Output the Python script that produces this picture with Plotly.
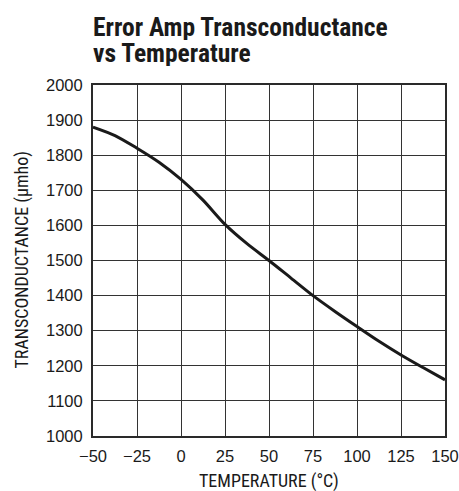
import plotly.graph_objects as go

temperature = [-50, -37.5, -25, -12.5, 0, 12.5, 25, 37.5, 50, 62.5, 75, 87.5, 100, 112.5, 125, 137.5, 150]
transconductance = [1880, 1856, 1820, 1780, 1731, 1672, 1603, 1548, 1500, 1450, 1400, 1355, 1312, 1270, 1231, 1195, 1160]

x_ticks = [-50, -25, 0, 25, 50, 75, 100, 125, 150]
x_tick_labels = ["\u221250", "\u221225", "0", "25", "50", "75", "100", "125", "150"]
y_ticks = list(range(1000, 2001, 100))

title_lines = ["Error Amp Transconductance", "vs Temperature"]
x_title = "TEMPERATURE (\u00b0C)"
y_title = "TRANSCONDUCTANCE (\u00b5mho)"

narrow = "Roboto Condensed, Liberation Sans Narrow, Arial Narrow, sans-serif"
regular = "Liberation Sans, Arial, sans-serif"
ink = "#1a1a1a"

fig = go.Figure()
fig.add_trace(go.Scatter(
    x=temperature, y=transconductance, mode="lines",
    line=dict(color=ink, width=3, shape="spline", smoothing=0.8),
    showlegend=False, hoverinfo="skip"))

annotations = []
for i, line in enumerate(title_lines):
    annotations.append(dict(
        text="<b>" + line + "</b>", xref="paper", yref="paper", x=0, y=1,
        xanchor="left", yanchor="middle", xshift=-2, yshift=58 - 26 * i,
        height=26, valign="middle",
        showarrow=False, font=dict(family=narrow, size=25.5, color=ink)))
annotations.append(dict(
    text=x_title, xref="paper", yref="paper", x=0.5, y=0,
    xanchor="center", yanchor="middle", yshift=-45,
    showarrow=False, font=dict(family=narrow, size=18, color=ink)))
annotations.append(dict(
    text=y_title, xref="paper", yref="paper", x=0, y=0.5, textangle=-90,
    xanchor="center", yanchor="middle", xshift=-72,
    showarrow=False, font=dict(family=narrow, size=18, color=ink)))

fig.update_layout(
    width=459, height=491,
    margin=dict(l=93, r=14, t=85, b=55, autoexpand=False),
    plot_bgcolor="white", paper_bgcolor="white",
    font=dict(family=regular, size=16, color=ink),
    annotations=annotations,
)
fig.update_xaxes(
    range=[-50, 150], tickvals=x_ticks, ticktext=x_tick_labels,
    showgrid=True, gridcolor="#333333", gridwidth=1,
    showline=True, linecolor="#2a2a2a", linewidth=2, mirror=True,
    ticks="", zeroline=False, automargin=False, ticklabelstandoff=4,
    tickfont=dict(family=regular, size=16.5, color=ink))
fig.update_yaxes(
    range=[1000, 2000], tickvals=y_ticks,
    showgrid=True, gridcolor="#333333", gridwidth=1,
    showline=True, linecolor="#2a2a2a", linewidth=2, mirror=True,
    ticks="", zeroline=False, automargin=False, ticklabelstandoff=5,
    tickfont=dict(family=regular, size=16.5, color=ink))

fig.write_html("out.html", config={"displayModeBar": False},
               post_script="document.body.style.margin='0';")
